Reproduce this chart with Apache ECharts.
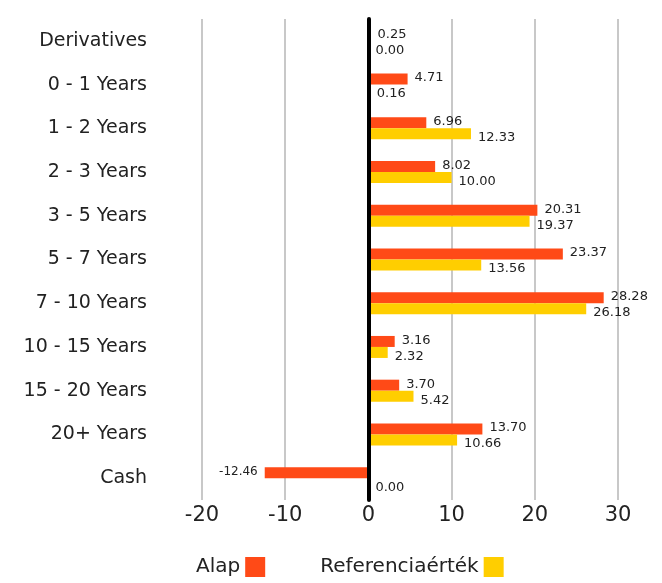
<!DOCTYPE html>
<html>
<head>
<meta charset="utf-8">
<script src="https://cdn.jsdelivr.net/npm/echarts@6/dist/echarts.min.js"></script>
<style>
html, body { margin: 0; padding: 0; background: #fff; }
#chart { width: 662px; height: 583px; }
</style>
</head>
<body>
<div id="chart"></div>
<script>
var categories = ['Derivatives', '0 - 1 Years', '1 - 2 Years', '2 - 3 Years', '3 - 5 Years',
    '5 - 7 Years', '7 - 10 Years', '10 - 15 Years', '15 - 20 Years', '20+ Years', 'Cash']
var alap = [0.25, 4.71, 6.96, 8.02, 20.31, 23.37, 28.28, 3.16, 3.70, 13.70, -12.46]
var referencia = [0.00, 0.16, 12.33, 10.00, 19.37, 13.56, 26.18, 2.32, 5.42, 10.66, 0.00]
var xTicks = { min: -20, max: 30, interval: 10 }

var font = '"DejaVu Sans", sans-serif'

function toItems(values, offsetY) {
    return values.map(function (v) {
        return {
            value: v,
            label: {
                position: v < 0 ? 'left' : 'right',
                fontSize: v < 0 ? 12 : 13,
                offset: [0, offsetY]
            }
        }
    })
}

var myChart = echarts.init(document.getElementById('chart'))
myChart.setOption({
    backgroundColor: '#fff',
    animation: false,
    textStyle: { fontFamily: font },
    grid: { left: 202, right: 44, top: 19, bottom: 83, containLabel: false, outerBoundsMode: 'none' },
    legend: {
        bottom: 1,
        left: 191,
        align: 'right',
        icon: 'rect',
        itemWidth: 20,
        itemHeight: 20,
        itemGap: 55,
        textStyle: { fontSize: 20, color: '#222', fontFamily: font },
        data: ['Alap', 'Referenciaérték']
    },
    xAxis: {
        type: 'value',
        min: xTicks.min,
        max: xTicks.max,
        interval: xTicks.interval,
        axisLine: { show: false },
        axisTick: { show: false },
        axisLabel: { fontSize: 21, color: '#222', margin: 5, fontFamily: font },
        splitLine: { lineStyle: { color: '#c8c8c8', width: 2 } }
    },
    yAxis: {
        type: 'category',
        inverse: true,
        data: categories,
        z: 10,
        axisLine: { onZero: true, lineStyle: { color: '#000', width: 4 } },
        axisTick: { show: false },
        axisLabel: { fontSize: 19, color: '#222', margin: 55, fontFamily: font }
    },
    series: [{
        name: 'Alap',
        type: 'bar',
        data: toItems(alap, -1),
        barWidth: 11,
        barGap: '0%',
        itemStyle: { color: '#ff4a17' },
        label: {
            show: true,
            color: '#222',
            distance: 7,
            formatter: function (p) { return p.value.toFixed(2) }
        }
    }, {
        name: 'Referenciaérték',
        type: 'bar',
        data: toItems(referencia, 4),
        barWidth: 11,
        barGap: '0%',
        itemStyle: { color: '#ffce00' },
        label: {
            show: true,
            color: '#222',
            distance: 7,
            formatter: function (p) { return p.value.toFixed(2) }
        }
    }]
})
</script>
</body>
</html>
